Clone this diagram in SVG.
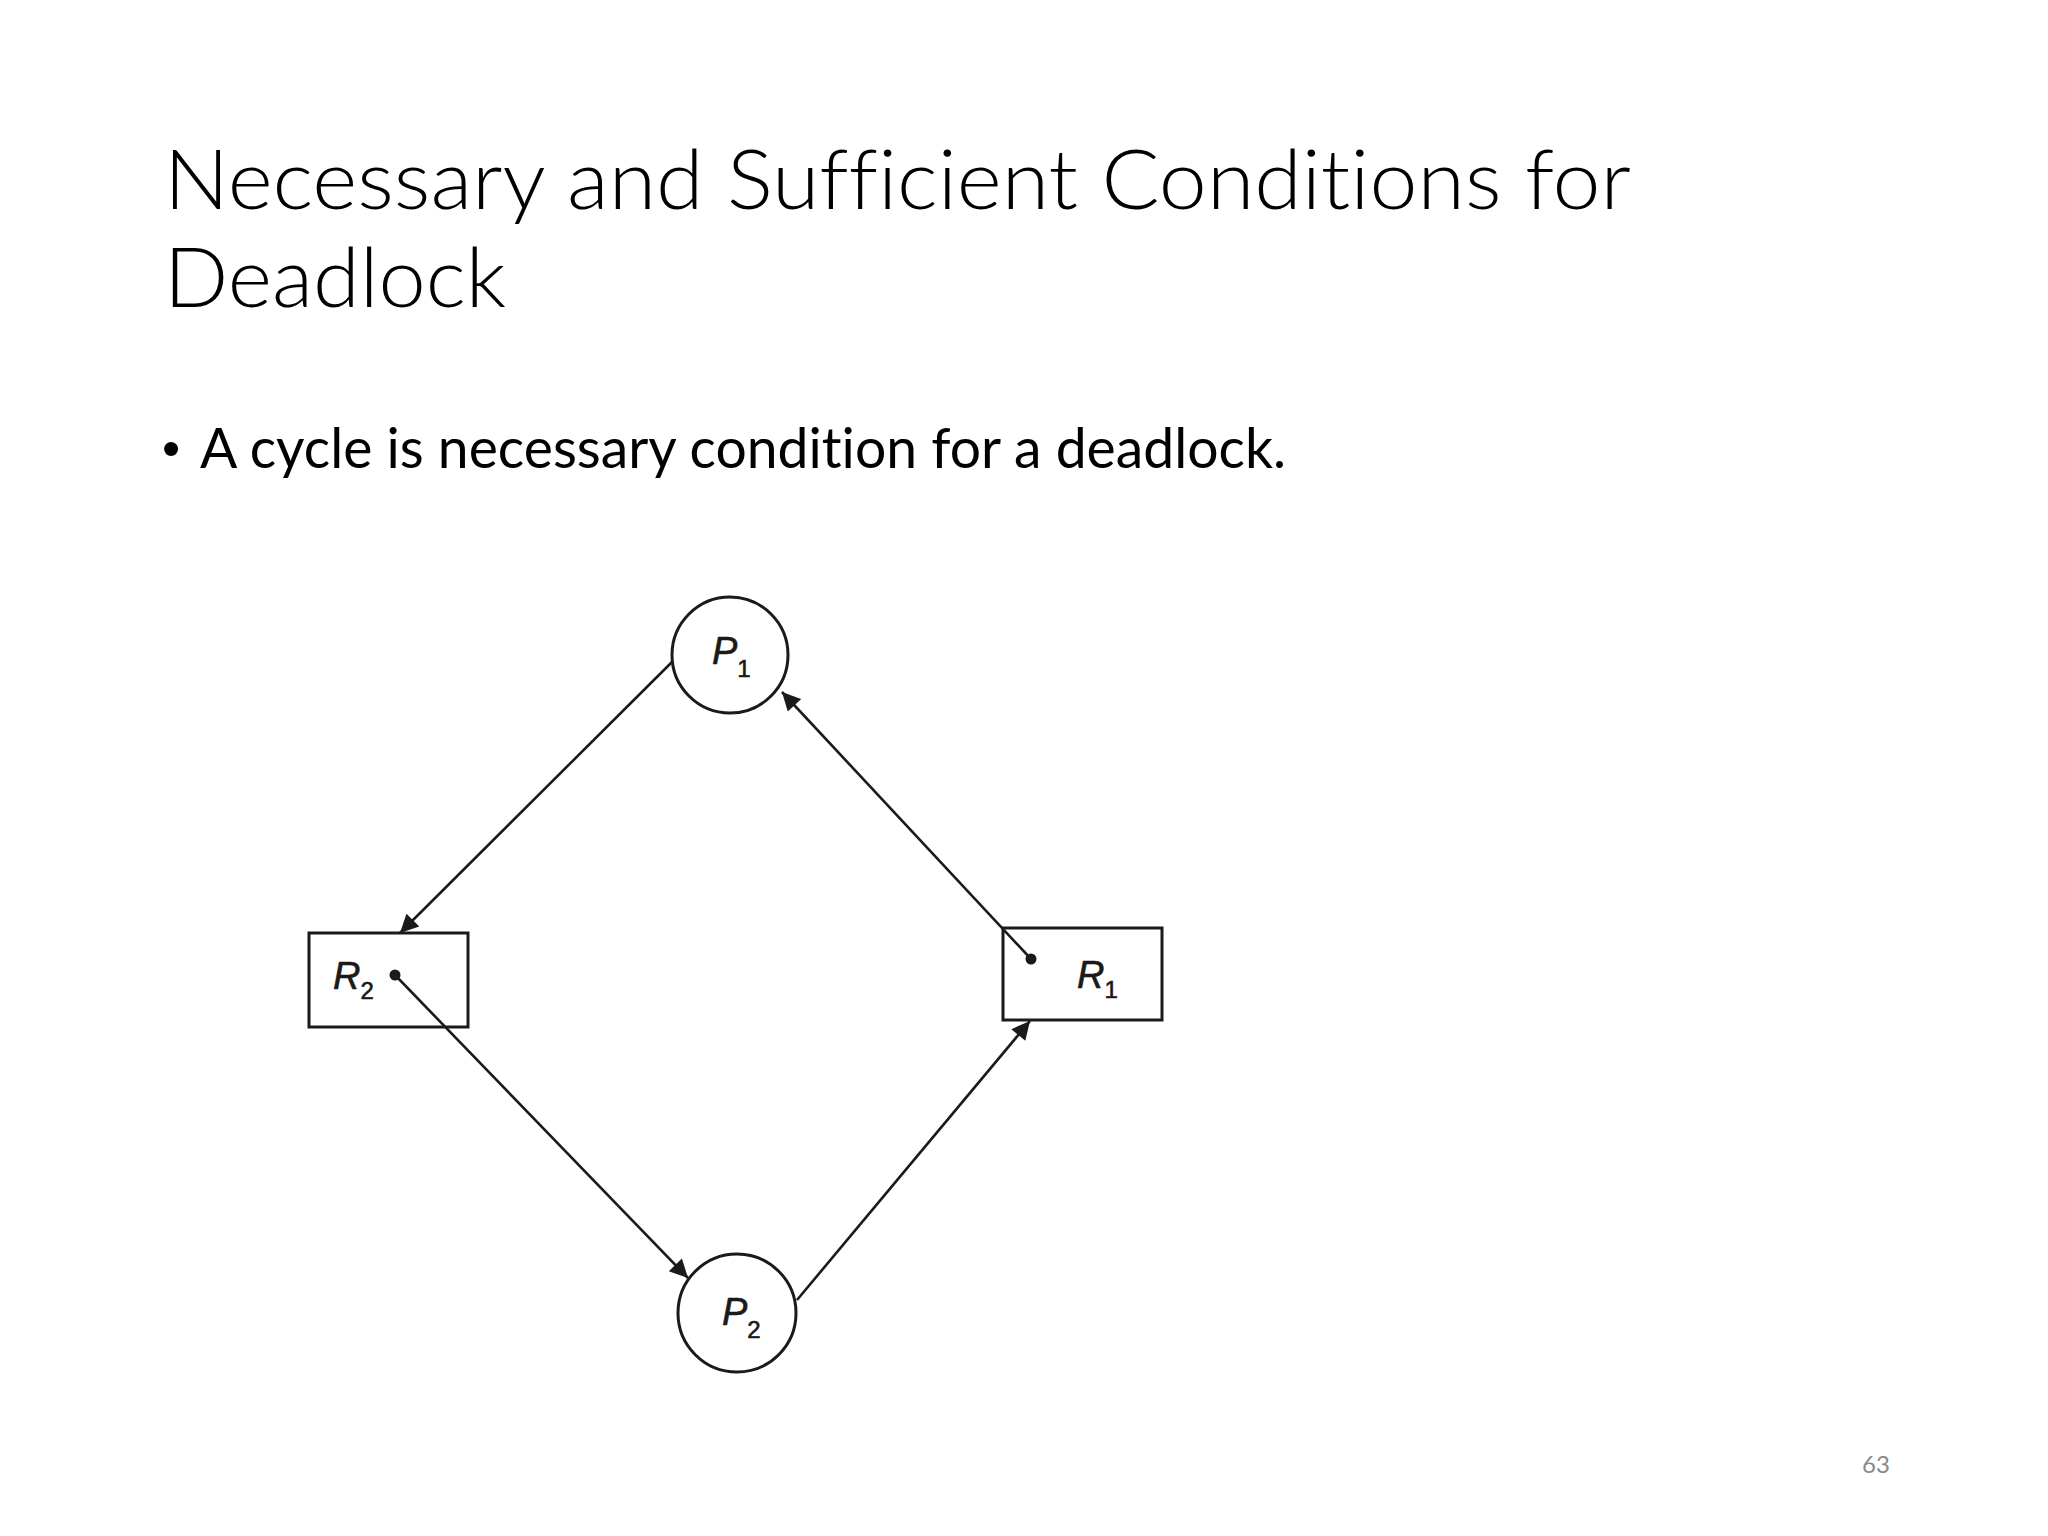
<svg xmlns="http://www.w3.org/2000/svg" width="2048" height="1536" viewBox="0 0 2048 1536">
<style>
.title{font-family:Lato,"Open Sans","Liberation Sans",sans-serif;font-weight:300;font-size:82px;fill:#000;font-variant-ligatures:none;font-feature-settings:"liga" 0,"dlig" 0}
.body{font-family:Lato,"Open Sans","Liberation Sans",sans-serif;font-size:56px;fill:#000;font-variant-ligatures:none;font-feature-settings:"liga" 0}
.bullet{font-family:"Liberation Sans",Arial,sans-serif;font-size:52px;fill:#000}
.node{fill:none;stroke:#1a1a1a;stroke-width:3}
.lbl{font-family:"Liberation Sans",Arial,sans-serif;font-style:italic;font-size:38px;fill:#1a1a1a;stroke:#1a1a1a;stroke-width:0.6}
.sub{font-size:24px;font-style:normal}
.edge{stroke:#1a1a1a;stroke-width:2.6;fill:none;marker-end:url(#arr)}
.pg{font-family:Lato,"Open Sans","Liberation Sans",sans-serif;font-size:24px;fill:#898989}
</style>
<defs>
<marker id="arr" viewBox="0 0 10 10" refX="10" refY="5" markerWidth="8" markerHeight="7" orient="auto">
<path d="M0,0 L10,5 L0,10 z" fill="#1a1a1a"/>
</marker>
</defs>
<rect width="2048" height="1536" fill="#fff"/>
<text class="title"><tspan x="164" y="209" textLength="1467" lengthAdjust="spacingAndGlyphs">Necessary and Sufficient Conditions for</tspan><tspan x="164" y="307" textLength="342" lengthAdjust="spacingAndGlyphs">Deadlock</tspan></text>
<text class="bullet" x="162" y="466">•</text>
<text class="body" x="200" y="468" textLength="1086" lengthAdjust="spacingAndGlyphs">A cycle is necessary condition for a deadlock.</text>
<g id="connectors">
<line class="edge" x1="672" y1="662" x2="400" y2="933"/>
<line class="edge" x1="395" y1="975" x2="688" y2="1278"/>
<line class="edge" x1="797" y1="1300" x2="1030" y2="1021"/>
<line class="edge" x1="1031" y1="959" x2="782" y2="692"/>
</g>
<g id="P1">
<circle class="node" cx="730" cy="655" r="58"/>
<text class="lbl" x="712" y="664">P<tspan class="sub" dy="13">1</tspan></text>
</g>
<g id="P2">
<circle class="node" cx="737" cy="1313" r="59"/>
<text class="lbl" x="722" y="1325">P<tspan class="sub" dy="13">2</tspan></text>
</g>
<g id="R2">
<rect class="node" x="309" y="933" width="159" height="94"/>
<text class="lbl" x="333" y="989">R<tspan class="sub" dy="10">2</tspan></text>
<circle cx="395" cy="975" r="5.5" fill="#1a1a1a"/>
</g>
<g id="R1">
<rect class="node" x="1003" y="928" width="159" height="92"/>
<text class="lbl" x="1077" y="988">R<tspan class="sub" dy="10">1</tspan></text>
<circle cx="1031" cy="959" r="5.5" fill="#1a1a1a"/>
</g>
<text class="pg" x="1862" y="1473">63</text>
</svg>
